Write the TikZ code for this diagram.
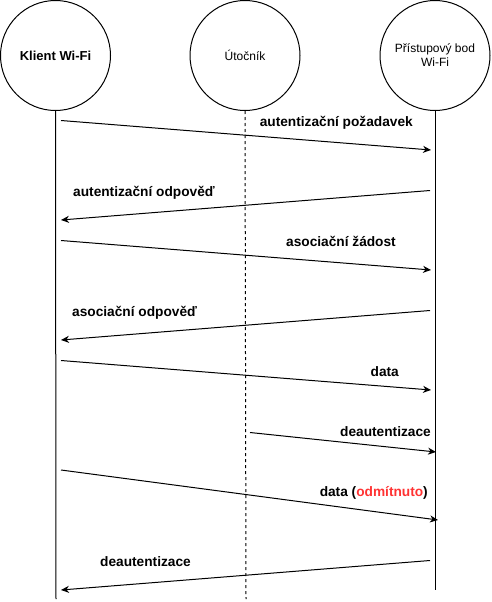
\documentclass[tikz,border=0pt]{standalone}
\usepackage{fontspec}
\setmainfont{Liberation Sans}
\usetikzlibrary{arrows.meta}
\definecolor{rejred}{HTML}{FF3333}
\begin{document}
\begin{tikzpicture}[x=1pt,y=-1pt,
  actor/.style={draw, circle, minimum size=110pt, inner sep=0pt, line width=1pt, font=\fontsize{12}{14}\selectfont, align=center},
  lifeline/.style={draw, line width=1pt},
  msg/.style={draw, line width=1pt, -{Stealth[length=8pt,width=7pt,inset=2.5pt]}},
  lbl/.style={inner sep=0pt, font=\bfseries\fontsize{13.7}{16}\selectfont}]
\useasboundingbox (0,0) rectangle (491,602);
\node[actor] (klient) at (55.5,55.5) {\bfseries\fontsize{13}{15}\selectfont Klient Wi-Fi};
\node[actor] (utocnik) at (245,55.5) {Útočník};
\node[actor] (ap) at (435,55.5) {Přístupový bod\\Wi-Fi};
\coordinate (kend) at (56,599);
\coordinate (uend) at (246,599);
\coordinate (aend) at (435,590);
\draw[lifeline] (klient.south) -- (kend);
\draw[lifeline, dash pattern=on 3pt off 3pt] (utocnik.south) -- (uend);
\draw[lifeline] (ap.south) -- (aend);
% message endpoints
\coordinate (m1s) at (61,120.5); \coordinate (m1e) at (431,150);
\coordinate (m2s) at (430,190.5); \coordinate (m2e) at (61,220);
\coordinate (m3s) at (61,240.5); \coordinate (m3e) at (431,270);
\coordinate (m4s) at (430,310.5); \coordinate (m4e) at (61,340);
\coordinate (m5s) at (61,360.5); \coordinate (m5e) at (431,390);
\coordinate (m6s) at (250,432.5); \coordinate (m6e) at (436,452);
\coordinate (m7s) at (61,470); \coordinate (m7e) at (438,520);
\coordinate (m8s) at (430,560.5); \coordinate (m8e) at (61,590);
\draw[msg] (m1s) -- (m1e);
\draw[msg] (m2s) -- (m2e);
\draw[msg] (m3s) -- (m3e);
\draw[msg] (m4s) -- (m4e);
\draw[msg] (m5s) -- (m5e);
\draw[msg] (m6s) -- (m6e);
\draw[msg] (m7s) -- (m7e);
\draw[msg] (m8s) -- (m8e);
\node[lbl, anchor=mid east] (l1) at (413,123.5) {autentizační požadavek};
\node[lbl, anchor=mid west] (l2) at (73,194) {autentizační odpověď};
\node[lbl, anchor=mid east] (l3) at (396,243.5) {asociační žádost};
\node[lbl, anchor=mid west] (l4) at (72,314) {asociační odpověď};
\node[lbl, anchor=mid east] (l5) at (399,373.5) {data};
\node[lbl, anchor=mid east] (l6) at (431,434) {deautentizace};
\node[lbl, anchor=mid east] (l7) at (428,493.5) {data (\textcolor{rejred}{odmítnuto})};
\node[lbl, anchor=mid west] (l8) at (100,563.5) {deautentizace};
\end{tikzpicture}
\end{document}
